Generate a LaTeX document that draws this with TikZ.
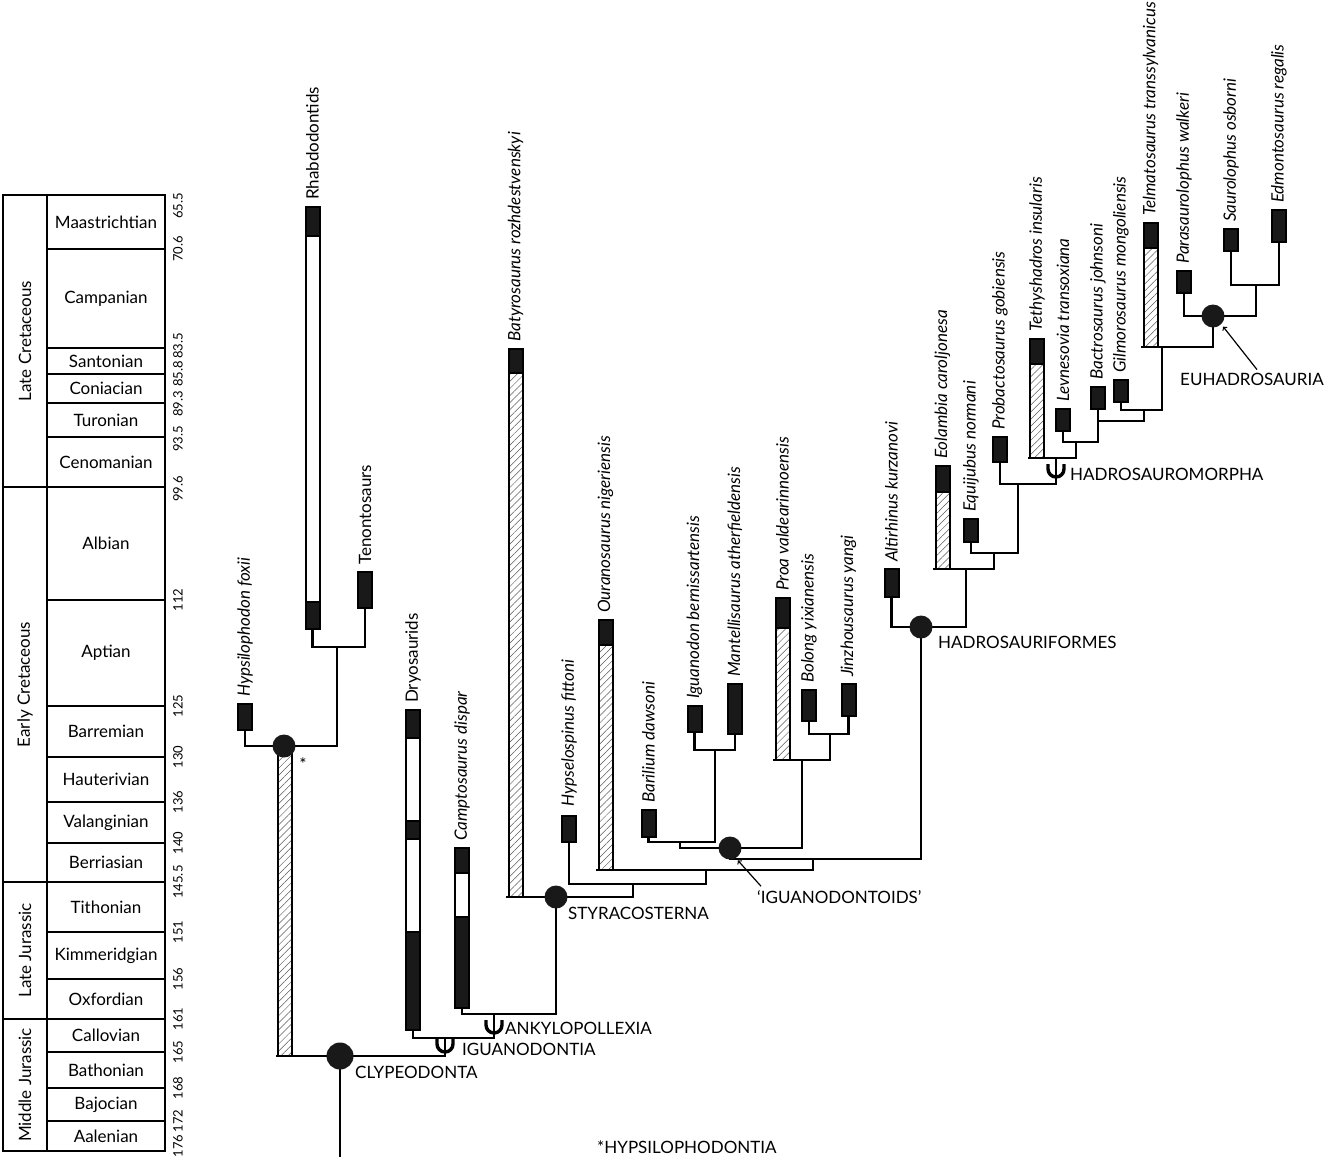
\documentclass[tikz,border=0pt]{standalone}
\usepackage{fontspec}
\setmainfont{Lato}
\usetikzlibrary{patterns.meta}

\tikzset{
  stemmark/.pic={\draw[line width=3.4pt] (-8pt,5pt) -- (-8pt,0pt) arc[start angle=180, end angle=360, radius=8pt] -- (8pt,5pt);}
}

\begin{document}
\fontsize{17pt}{20pt}\selectfont
\begin{tikzpicture}[x=1pt, y=-1pt,
  branch/.style={line width=2.7pt},
  fossil/.style={draw, line width=2pt, fill=black!90, minimum width=14pt, inner sep=0pt},
  ghost/.style={draw, line width=2pt, fill=white, minimum width=14pt, inner sep=0pt},
  hatch/.style={draw, line width=2pt, minimum width=14pt, inner sep=0pt, pattern={Lines[angle=45, distance=5pt, line width=0.5pt]}, pattern color=black!65},
  dot/.style={circle, fill=black!90, minimum size=23pt, inner sep=0pt},
  sp/.style={rotate=90, anchor=west, inner sep=0pt, font=\itshape},
  grp/.style={rotate=90, anchor=west, inner sep=0pt},
  clade/.style={anchor=west, inner sep=0pt},
  stage/.style={draw, line width=2.4pt, minimum width=118pt, inner sep=0pt},
  epoch/.style={draw, line width=2.4pt, rotate=90, minimum height=44pt, inner sep=0pt},
  age/.style={rotate=90, inner sep=0pt, font=\fontsize{13pt}{15pt}\selectfont}]

  \useasboundingbox (0,0) rectangle (1333,1160);

  % Epochs
  \node[epoch, minimum width=292pt] (lcret) at (25,341) {Late Cretaceous};
  \node[epoch, minimum width=395pt] (ecret) at (25,684.5) {Early Cretaceous};
  \node[epoch, minimum width=137pt] (ljur) at (25,950.5) {Late Jurassic};
  \node[epoch, minimum width=132pt] (mjur) at (25,1085) {Middle Jurassic};

  % Stages
  \node[stage, minimum height=54pt] (maas) at (106,222) {Maastrichtian};
  \node[stage, minimum height=99pt] (camp) at (106,298.5) {Campanian};
  \node[stage, minimum height=26pt] (sant) at (106,361) {Santonian};
  \node[stage, minimum height=29pt] (coni) at (106,388.5) {Coniacian};
  \node[stage, minimum height=34pt] (turo) at (106,420) {Turonian};
  \node[stage, minimum height=50pt] (ceno) at (106,462) {Cenomanian};
  \node[stage, minimum height=113pt] (albi) at (106,543.5) {Albian};
  \node[stage, minimum height=106pt] (apti) at (106,653) {Aptian};
  \node[stage, minimum height=51pt] (barr) at (106,731.5) {Barremian};
  \node[stage, minimum height=45pt] (haut) at (106,779.5) {Hauterivian};
  \node[stage, minimum height=41pt] (vala) at (106,822.5) {Valanginian};
  \node[stage, minimum height=39pt] (berr) at (106,862.5) {Berriasian};
  \node[stage, minimum height=50pt] (tith) at (106,907) {Tithonian};
  \node[stage, minimum height=47pt] (kimm) at (106,955.5) {Kimmeridgian};
  \node[stage, minimum height=40pt] (oxfo) at (106,999) {Oxfordian};
  \node[stage, minimum height=33pt] (call) at (106,1035.5) {Callovian};
  \node[stage, minimum height=36pt] (bath) at (106,1070) {Bathonian};
  \node[stage, minimum height=33pt] (bajo) at (106,1104.5) {Bajocian};
  \node[stage, minimum height=30pt] (aale) at (106,1136) {Aalenian};

  % Ages (Ma)
  \node[age] (t1) at (178,206) {65.5};
  \node[age] (t2) at (178,249) {70.6};
  \node[age] (t3) at (178,346) {83.5};
  \node[age] (t4) at (178,374) {85.8};
  \node[age] (t5) at (178,404) {89.3};
  \node[age] (t6) at (178,439) {93.5};
  \node[age] (t7) at (178,489) {99.6};
  \node[age] (t8) at (178,600) {112};
  \node[age] (t9) at (178,706) {125};
  \node[age] (t10) at (178,757) {130};
  \node[age] (t11) at (178,802) {136};
  \node[age] (t12) at (178,843) {140};
  \node[age] (t13) at (178,882) {145.5};
  \node[age] (t14) at (178,932) {151};
  \node[age] (t15) at (178,979) {156};
  \node[age] (t16) at (178,1019) {161};
  \node[age] (t17) at (178,1052) {165};
  \node[age] (t18) at (178,1088) {168};
  \node[age] (t19) at (178,1121) {172};
  \node[age] (t20) at (178,1146) {176};

  % Branch points
  \coordinate (root) at (340,1157);
  \coordinate (clyp) at (340,1056);
  \coordinate (hypsi) at (284,746);
  \coordinate (nHy) at (337,746);
  \coordinate (nRT) at (337,647);
  \coordinate (igdt) at (445,1056);
  \coordinate (nIg) at (445,1038);
  \coordinate (nAn) at (494,1014);
  \coordinate (styr) at (556,897);
  \coordinate (nS1) at (633,884);
  \coordinate (nS2) at (706,870);
  \coordinate (nS3) at (813,859);
  \coordinate (iguo) at (730,848);
  \coordinate (nI1) at (680,842);
  \coordinate (nI2) at (715,750);
  \coordinate (nI4) at (802,760);
  \coordinate (nI5) at (830,734);
  \coordinate (hadf) at (921,627);
  \coordinate (nH1) at (966,569);
  \coordinate (nH2) at (994,553);
  \coordinate (nH3) at (1018,484);
  \coordinate (hdmo) at (1056,458);
  \coordinate (nH5) at (1076,442);
  \coordinate (nH6) at (1098,421);
  \coordinate (nH7) at (1144,410);
  \coordinate (nH8) at (1162,347);
  \coordinate (euha) at (1213,316);
  \coordinate (nH9) at (1256,285);

  % Ranges
  \node[fossil, minimum height=26pt] (hyps) at (245,717) {};
  \node[ghost, minimum height=422pt] (rhab) at (312.5,418) {};
  \node[fossil, minimum height=29pt, anchor=north] (rhab-a) at (rhab.north) {};
  \node[fossil, minimum height=27pt, anchor=south] (rhab-b) at (rhab.south) {};
  \node[fossil, minimum height=36pt] (tenon) at (365,590) {};
  \node[hatch, minimum height=310pt] (hstem) at (284.5,901) {};
  \node[ghost, minimum height=320pt] (dryo) at (413,870) {};
  \node[fossil, minimum height=28pt, anchor=north] (dryo-a) at (dryo.north) {};
  \node[fossil, minimum height=18pt] (dryo-b) at (413,830) {};
  \node[fossil, minimum height=98pt, anchor=south] (dryo-c) at (dryo.south) {};
  \node[ghost, minimum height=160pt] (campto) at (462,928) {};
  \node[fossil, minimum height=25pt, anchor=north] (campto-a) at (campto.north) {};
  \node[fossil, minimum height=91pt, anchor=south] (campto-b) at (campto.south) {};
  \node[hatch, minimum height=548pt] (batyro) at (515.5,623) {};
  \node[fossil, minimum height=24pt, anchor=north] (batyro-a) at (batyro.north) {};
  \node[fossil, minimum height=26pt] (hypsel) at (569,829) {};
  \node[hatch, minimum height=250pt] (ourano) at (605.5,745) {};
  \node[fossil, minimum height=25pt, anchor=north] (ourano-a) at (ourano.north) {};
  \node[fossil, minimum height=27pt] (baril) at (648.5,823.5) {};
  \node[fossil, minimum height=26pt] (iguan) at (694.5,719) {};
  \node[fossil, minimum height=50pt] (mantel) at (735,709) {};
  \node[hatch, minimum height=162pt] (proa) at (782.5,679) {};
  \node[fossil, minimum height=30pt, anchor=north] (proa-a) at (proa.north) {};
  \node[fossil, minimum height=31pt] (bolong) at (809,705.5) {};
  \node[fossil, minimum height=32pt] (jinzh) at (848.5,700) {};
  \node[fossil, minimum height=28pt] (altir) at (891.5,583) {};
  \node[hatch, minimum height=103pt] (eolam) at (942.5,517.5) {};
  \node[fossil, minimum height=26pt, anchor=north] (eolam-a) at (eolam.north) {};
  \node[fossil, minimum height=23pt] (equij) at (971,530.5) {};
  \node[fossil, minimum height=25pt] (probac) at (1000,449.5) {};
  \node[hatch, minimum height=119pt] (tethy) at (1037,398.5) {};
  \node[fossil, minimum height=25pt, anchor=north] (tethy-a) at (tethy.north) {};
  \node[fossil, minimum height=22pt] (levne) at (1063,420) {};
  \node[fossil, minimum height=22pt] (bactro) at (1098,398) {};
  \node[fossil, minimum height=22pt] (gilmo) at (1121,391) {};
  \node[hatch, minimum height=124pt] (telma) at (1150.5,285) {};
  \node[fossil, minimum height=25pt, anchor=north] (telma-a) at (telma.north) {};
  \node[fossil, minimum height=22pt] (paras) at (1184,282) {};
  \node[fossil, minimum height=22pt] (sauro) at (1231,240) {};
  \node[fossil, minimum height=32pt] (edmon) at (1279,226) {};

  % Taxon names
  \node[sp] (hyps-t) at ([yshift=6pt]hyps.north) {Hypsilophodon foxii};
  \node[grp] (rhab-t) at ([yshift=6pt]rhab.north) {Rhabdodontids};
  \node[grp] (tenon-t) at ([yshift=6pt]tenon.north) {Tenontosaurs};
  \node[grp] (dryo-t) at ([yshift=6pt]dryo.north) {Dryosaurids};
  \node[sp] (campto-t) at ([yshift=6pt]campto.north) {Camptosaurus dispar};
  \node[sp] (batyro-t) at ([yshift=6pt]batyro.north) {Batyrosaurus rozhdestvenskyi};
  \node[sp] (hypsel-t) at ([yshift=8pt]hypsel.north) {Hypselospinus fittoni};
  \node[sp] (ourano-t) at ([yshift=6pt]ourano.north) {Ouranosaurus nigeriensis};
  \node[sp] (baril-t) at ([yshift=6pt]baril.north) {Barilium dawsoni};
  \node[sp] (iguan-t) at ([yshift=6pt]iguan.north) {Iguanodon bernissartensis};
  \node[sp] (mantel-t) at ([yshift=6pt]mantel.north) {Mantellisaurus atherfieldensis};
  \node[sp] (proa-t) at ([yshift=6pt]proa.north) {Proa valdearinnoensis};
  \node[sp] (bolong-t) at ([yshift=6pt]bolong.north) {Bolong yixianensis};
  \node[sp] (jinzh-t) at ([yshift=6pt]jinzh.north) {Jinzhousaurus yangi};
  \node[sp] (altir-t) at ([yshift=6pt]altir.north) {Altirhinus kurzanovi};
  \node[sp] (eolam-t) at ([yshift=6pt]eolam.north) {Eolambia caroljonesa};
  \node[sp] (equij-t) at ([yshift=6pt]equij.north) {Equijubus normani};
  \node[sp] (probac-t) at ([yshift=6pt]probac.north) {Probactosaurus gobiensis};
  \node[sp] (tethy-t) at ([yshift=6pt]tethy.north) {Tethyshadros insularis};
  \node[sp] (levne-t) at ([yshift=6pt]levne.north) {Levnesovia transoxiana};
  \node[sp] (bactro-t) at ([yshift=6pt]bactro.north) {Bactrosaurus johnsoni};
  \node[sp] (gilmo-t) at ([yshift=6pt]gilmo.north) {Gilmorosaurus mongoliensis};
  \node[sp] (telma-t) at ([yshift=6pt]telma.north) {Telmatosaurus transsylvanicus};
  \node[sp] (paras-t) at ([yshift=6pt]paras.north) {Parasaurolophus walkeri};
  \node[sp] (sauro-t) at ([yshift=6pt]sauro.north) {Saurolophus osborni};
  \node[sp] (edmon-t) at ([yshift=6pt]edmon.north) {Edmontosaurus regalis};

  % Branches
  \draw[branch] (root) -- (clyp);
  \draw[branch] (hstem.south west) |- (igdt) -- (nIg);
  \draw[branch] (hyps.south) |- (nHy) -- (nRT);
  \draw[branch] (rhab.south) |- (nRT) -| (tenon.south);
  \draw[branch] (dryo.south) |- (nIg) -| (nAn);
  \draw[branch] (campto.south) |- (nAn) -| (styr);
  \draw[branch] (batyro.south west) |- (styr) -| (nS1);
  \draw[branch] (hypsel.south) |- (nS1) -| (nS2);
  \draw[branch] (ourano.south west) |- (nS2) -| (nS3);
  \draw[branch] (iguo) |- (nS3) -| (hadf);
  \draw[branch] (nI1) |- (iguo) -| (nI4);
  \draw[branch] (baril.south) |- (nI1) -| (nI2);
  \draw[branch] (iguan.south) |- (nI2) -| (mantel.south);
  \draw[branch] (proa.south west) |- (nI4) -| (nI5);
  \draw[branch] (bolong.south) |- (nI5) -| (jinzh.south);
  \draw[branch] (altir.south) |- (hadf) -| (nH1);
  \draw[branch] (eolam.south west) |- (nH1) -| (nH2);
  \draw[branch] (equij.south) |- (nH2) -| (nH3);
  \draw[branch] (probac.south) |- (nH3) -| (hdmo);
  \draw[branch] (tethy.south west) |- (hdmo) -| (nH5);
  \draw[branch] (levne.south) |- (nH5) -| (nH6);
  \draw[branch] (bactro.south) |- (nH6) -| (nH7);
  \draw[branch] (gilmo.south) |- (nH7) -| (nH8);
  \draw[branch] (telma.south west) |- (nH8) -| (euha);
  \draw[branch] (paras.south) |- (euha) -| (nH9);
  \draw[branch] (sauro.south) |- (nH9) -| (edmon.south);

  % Stem-based clades
  \pic at (445,1044) {stemmark};
  \pic at (494,1025) {stemmark};
  \pic at (1056,469) {stemmark};

  % Node-based clades
  \node[dot, minimum size=27pt] (clyp-dot) at (clyp) {};
  \node[dot] (hypsi-dot) at (hypsi) {};
  \node[dot] (styr-dot) at (styr) {};
  \node[dot] (iguo-dot) at (iguo) {};
  \node[dot] (hadf-dot) at (hadf) {};
  \node[dot] (euha-dot) at (euha) {};

  % Clade names
  \node[clade] (clyp-lab) at (355,1072) {CLYPEODONTA};
  \node[clade] (igdt-lab) at (462,1049) {IGUANODONTIA};
  \node[clade] (anky-lab) at (505,1028) {ANKYLOPOLLEXIA};
  \node[clade] (styr-lab) at (568,913) {STYRACOSTERNA};
  \node[clade] (iguo-lab) at (757,897) {‘IGUANODONTOIDS’};
  \node[clade] (hadf-lab) at (938,642) {HADROSAURIFORMES};
  \node[clade] (hdmo-lab) at (1070,474) {HADROSAUROMORPHA};
  \node[clade] (euha-lab) at (1180,379) {EUHADROSAURIA};
  \node[clade] (hyp-note) at (597,1147) {*HYPSILOPHODONTIA};
  \node[font=\fontsize{17pt}{20pt}\selectfont, inner sep=0pt] (ast) at (303,764) {*};

  % Arrows
  \draw[->, line width=1.2pt, shorten >=3pt] ([xshift=4pt, yshift=4pt]iguo-lab.north west) -- (iguo-dot.-60);
  \draw[->, line width=1.2pt, shorten >=3pt] ([xshift=5pt, yshift=3pt]euha-lab.north) -- (euha-dot.-45);

\end{tikzpicture}
\end{document}
